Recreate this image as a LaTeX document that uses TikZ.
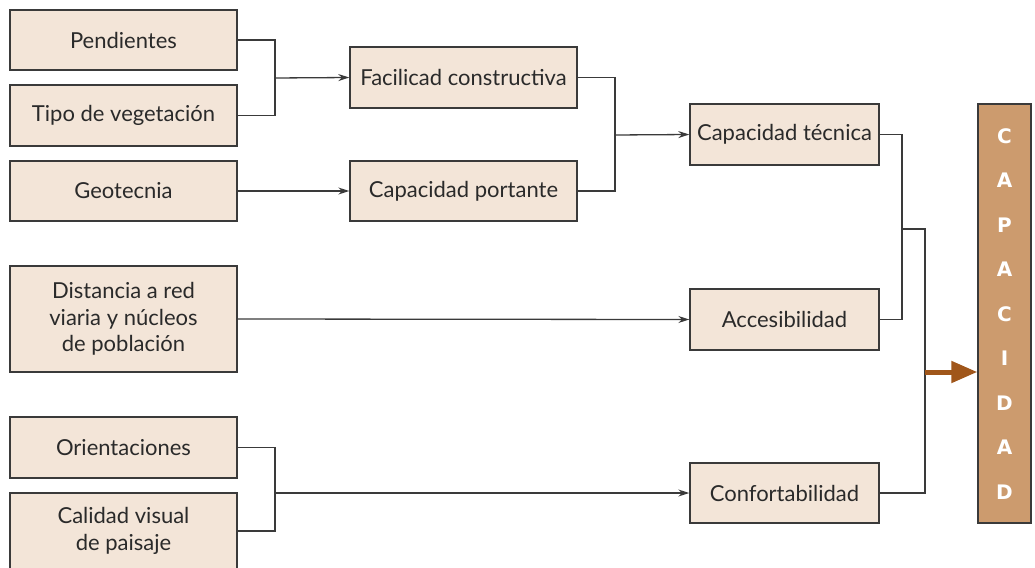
\documentclass[tikz,border=0pt]{standalone}
\usepackage{fontspec}
\setmainfont{Lato}
\newfontfamily\capfont{DejaVu Sans}
\usetikzlibrary{arrows.meta}
\definecolor{boxfill}{HTML}{F3E5D8}
\definecolor{boxline}{HTML}{3A3A3A}
\definecolor{capfill}{HTML}{CC9B6E}
\definecolor{brownarr}{HTML}{A0561A}
\definecolor{txt}{HTML}{2A2A2A}
\tikzset{
  box/.style={draw=boxline, line width=1.4pt, fill=boxfill, text=txt, inner sep=0pt,
    align=center, font=\fontsize{22}{26.5}\selectfont},
  wire/.style={draw=boxline, line width=1.3pt},
  arr/.style={wire, -{Stealth[length=11pt,width=7pt]}},
  capletter/.style={text=white, font=\capfont\bfseries\fontsize{20}{22}\selectfont, inner sep=0pt}
}
\begin{document}
\begin{tikzpicture}[x=1pt,y=-1pt]
\useasboundingbox (0,0) rectangle (1035,567);
\clip (0,0) rectangle (1035,567);
% left column
\node[box, minimum width=227pt, minimum height=60pt] (pend) at (123.5,40) {Pendientes};
\node[box, minimum width=227pt, minimum height=61pt] (tipo) at (123.5,115.5) {Tipo de vegetación};
\node[box, minimum width=227pt, minimum height=60pt] (geo) at (123.5,191) {Geotecnia};
\node[box, minimum width=227pt, minimum height=106pt] (dist) at (123.5,319) {Distancia a red\\viaria y núcleos\\de población};
\node[box, minimum width=227pt, minimum height=61pt] (ori) at (123.5,447.5) {Orientaciones};
\node[box, minimum width=227pt, minimum height=76pt] (cal) at (123.5,531) {Calidad visual\\de paisaje};
% middle column
\node[box, minimum width=227pt, minimum height=61pt] (fac) at (463.5,77.5) {Facilicad constructiva};
\node[box, minimum width=227pt, minimum height=60pt] (port) at (463.5,191) {Capacidad portante};
% right column
\node[box, minimum width=189pt, minimum height=61pt] (tec) at (784.5,134.5) {Capacidad técnica};
\node[box, minimum width=189pt, minimum height=61pt] (acc) at (784.5,319.5) {Accesibilidad};
\node[box, minimum width=189pt, minimum height=60pt] (conf) at (784.5,493) {Confortabilidad};
% CAPACIDAD
\node[draw=boxline, line width=1.4pt, fill=capfill, minimum width=53pt, minimum height=419pt, inner sep=0pt] (cap) at (1004.5,313.5) {};
\foreach \l [count=\i] in {C,A,P,A,C,I,D,A,D}
  \node[capletter] (L\i) at (1004.5,{136+44.5*(\i-1)}) {\l};
% connectors
\coordinate (j1) at (275,78);
\draw[wire] (pend.east) -| (j1) |- (tipo.east);
\draw[arr] (j1) -- (fac.west);
\draw[arr] (geo.east) -- (port.west);
\coordinate (j2) at (615,135);
\draw[wire] (fac.east) -| (j2) |- (port.east);
\draw[arr] (j2) -- (tec.west);
\draw[arr] (dist.east) -- (acc.west);
\coordinate (j3) at (275,493);
\draw[wire] (ori.east) -| (j3) |- (cal.east);
\draw[arr] (j3) -- (conf.west);
\coordinate (j4) at (902,229);
\draw[wire] (tec.east) -| (j4) |- (acc.east);
\coordinate (j5) at (925,372);
\draw[wire] (j4) -| (j5) |- (conf.east);
\draw[brownarr, line width=5pt, -{Triangle[length=26pt,width=21pt]}] (j5) -- (cap.west |- j5);
\end{tikzpicture}
\end{document}
